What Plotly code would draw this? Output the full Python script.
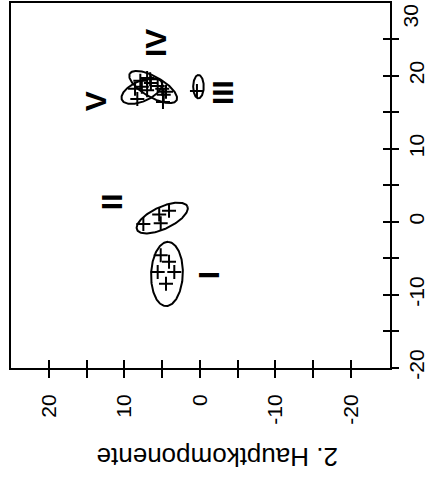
import numpy as np
import plotly.graph_objects as go

# Cluster scores on the first two principal components
groups = ["I", "II", "III", "IV", "V"]
pc2_I = [5.2, 4.1, 5.6, 3.4, 4.5]
pc1_I = [-4.6, -5.5, -6.9, -6.9, -8.5]
pc2_II = [7.5, 5.4, 4.1, 5.2]
pc1_II = [-0.3, 1.0, 1.5, -0.2]
pc2_III = [0.4]
pc1_III = [17.9]
pc2_IV = [7.0, 6.6, 6.5, 5.6, 5.0, 4.5, 4.8, 4.9]
pc1_IV = [19.7, 19.5, 19.0, 18.6, 18.2, 17.8, 17.4, 16.4]
pc2_V = [7.9, 8.6, 7.7, 7.0, 8.3]
pc1_V = [19.3, 18.2, 18.5, 18.0, 16.8]

# Spanning ellipses: centre (pc2, pc1), semi-axes, orientation (deg)
ell_pc2 = [4.37, 5.0, 0.2, 6.2, 7.7]
ell_pc1 = [-7.16, 0.5, 18.5, 18.45, 17.9]
ell_a = [4.4, 3.7, 1.6, 3.6, 2.9]
ell_b = [2.1, 1.5, 0.7, 1.4, 1.4]
ell_phi = [92, 154, 90, 31, 155]

# Group label positions (pc2, pc1)
lab_pc2 = [-1.1, 11.8, -3.0, 5.8, 13.9]
lab_pc1 = [-7.3, 2.8, 17.7, 24.5, 16.5]

# Axis ticks
x_ticks = [20, 15, 10, 5, 0, -5, -10, -15, -20]
x_labels = ["20", "", "10", "", "0", "", "-10", "", "-20"]
y_ticks = [-20, -15, -10, -5, 0, 5, 10, 15, 20, 25, 30]
y_labels = ["-20", "", "-10", "", "0", "", "10", "", "20", "", ""]
y_top_label = "30"

FONT = "Liberation Sans"
fig = go.Figure()

pts_x = [pc2_I, pc2_II, pc2_III, pc2_IV, pc2_V]
pts_y = [pc1_I, pc1_II, pc1_III, pc1_IV, pc1_V]

t = np.linspace(0, 2 * np.pi, 200)
for cx, cy, a, b, phi in zip(ell_pc2, ell_pc1, ell_a, ell_b, ell_phi):
    p = np.deg2rad(phi)
    ex = cx + a * np.cos(t) * np.cos(p) - b * np.sin(t) * np.sin(p)
    ey = cy + a * np.cos(t) * np.sin(p) + b * np.sin(t) * np.cos(p)
    fig.add_trace(go.Scatter(x=ex, y=ey, mode="lines",
                             line=dict(color="black", width=2),
                             hoverinfo="skip", showlegend=False))

for xs, ys in zip(pts_x, pts_y):
    fig.add_trace(go.Scatter(x=xs, y=ys, mode="markers",
                             marker=dict(symbol="cross-thin", size=10,
                                         line=dict(color="black", width=2)),
                             showlegend=False))

# secondary axes carry the inward half of the crossing ticks
fig.add_trace(go.Scatter(x=[None], y=[None], xaxis="x2", yaxis="y2",
                         showlegend=False))

for name, lx, ly in zip(groups, lab_pc2, lab_pc1):
    fig.add_annotation(x=lx, y=ly, text="<b>" + name + "</b>", showarrow=False,
                       textangle=-90, xanchor="center", yanchor="middle",
                       font=dict(family=FONT, size=30, color="black"))

fig.add_annotation(x=0.5435, y=-0.244, xref="paper", yref="paper",
                   text="2. Hauptkomponente", showarrow=False, textangle=180,
                   xanchor="center", yanchor="middle",
                   font=dict(family=FONT, size=26, color="black"))

xr = [25.03, -25.17]
yr = [-20.04, 29.96]

# top tick label sits just inside the page edge
fig.add_annotation(x=1.055, y=(y_ticks[-1] - yr[0]) / (yr[1] - yr[0]),
                   xref="paper", yref="paper",
                   text=y_top_label, showarrow=False, textangle=-90,
                   xanchor="center", yanchor="middle", yshift=-13,
                   font=dict(family=FONT, size=21, color="black"))

common = dict(showgrid=False, zeroline=False, tickcolor="black", tickwidth=2,
              automargin=False)

fig.update_layout(
    template="none",
    width=427, height=479,
    margin=dict(l=11, r=37, t=3, b=111),
    paper_bgcolor="white", plot_bgcolor="white",
    showlegend=False,
    xaxis=dict(range=xr, tickmode="array", tickvals=x_ticks, ticktext=x_labels,
               tickangle=-90, ticks="outside", ticklen=8,
               showline=True, linecolor="black", linewidth=2, mirror=True,
               tickfont=dict(family=FONT, size=21, color="black"),
               ticklabelstandoff=8, **common),
    yaxis=dict(range=yr, side="right", tickmode="array", tickvals=y_ticks,
               ticktext=y_labels, tickangle=-90, ticks="outside", ticklen=7,
               showline=True, linecolor="black", linewidth=2, mirror=True,
               tickfont=dict(family=FONT, size=21, color="black"),
               ticklabelstandoff=0, **common),
    xaxis2=dict(range=xr, overlaying="x", anchor="y", side="bottom",
                tickmode="array", tickvals=x_ticks, ticks="inside", ticklen=8,
                showticklabels=False, showline=False, **common),
    yaxis2=dict(range=yr, overlaying="y", anchor="x", side="right",
                tickmode="array", tickvals=y_ticks, ticks="inside", ticklen=7,
                showticklabels=False, showline=False, **common),
)

fig.write_html("out.html")
